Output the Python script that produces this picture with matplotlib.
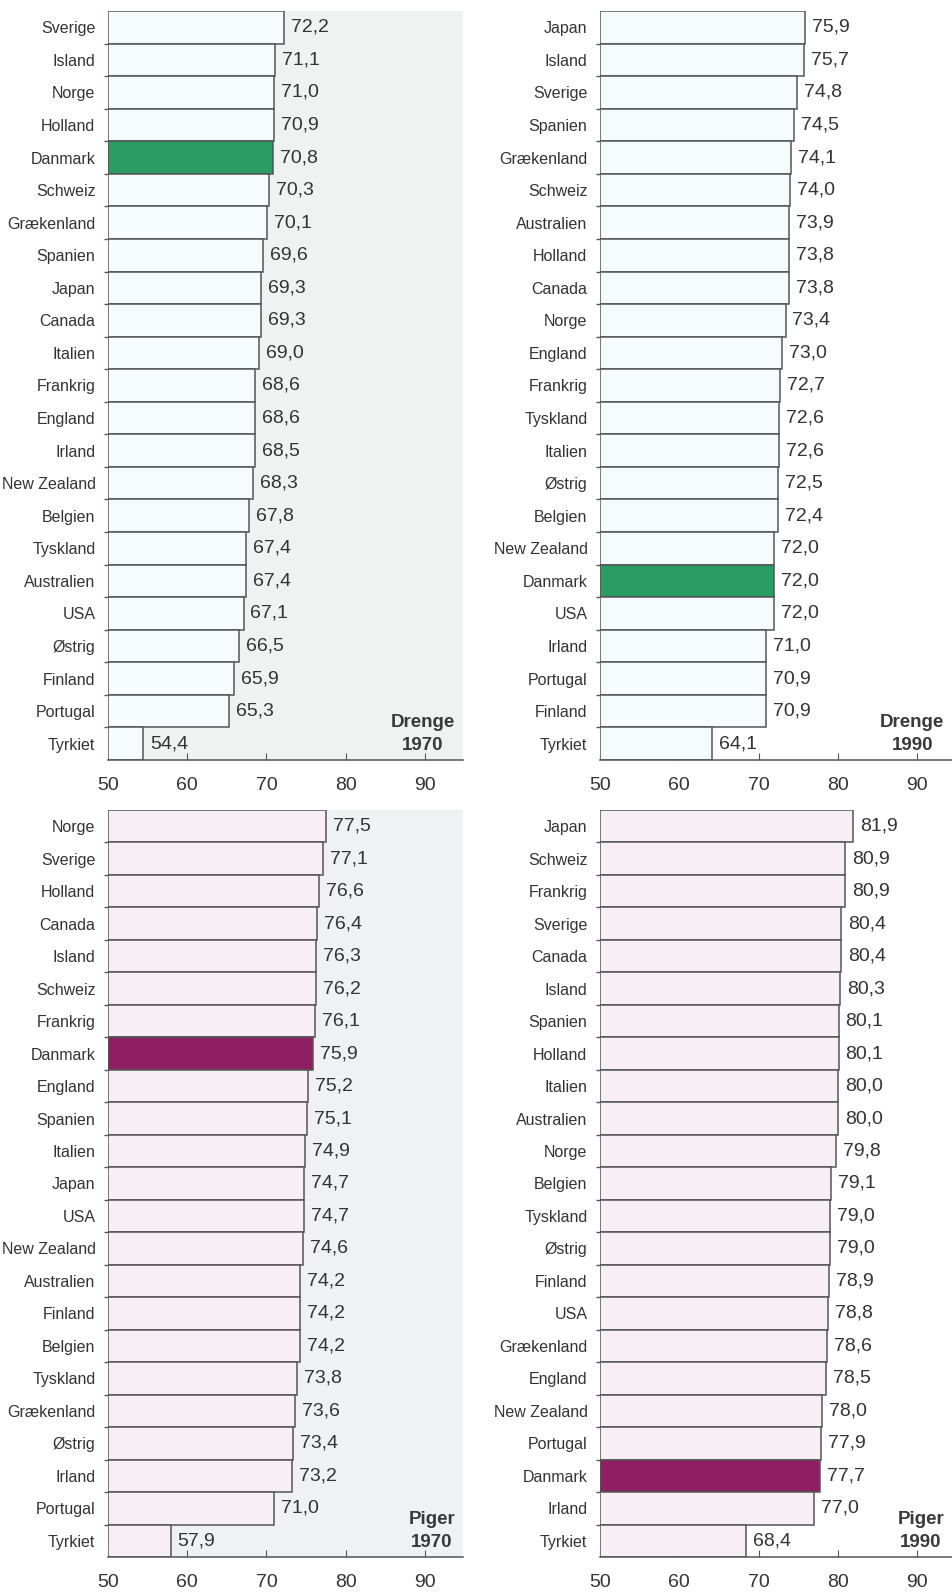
"""
Middellevetid ved fødsel - drenge og piger, 1970 og 1990
"""
import matplotlib.pyplot as plt

# ---- data ----
drenge70_lande = ['Sverige', 'Island', 'Norge', 'Holland', 'Danmark', 'Schweiz', 'Grækenland',
                  'Spanien', 'Japan', 'Canada', 'Italien', 'Frankrig', 'England', 'Irland',
                  'New Zealand', 'Belgien', 'Tyskland', 'Australien', 'USA', 'Østrig',
                  'Finland', 'Portugal', 'Tyrkiet']
drenge70_vaerdi = [72.2, 71.1, 71.0, 70.9, 70.8, 70.3, 70.1, 69.6, 69.3, 69.3, 69.0, 68.6,
                   68.6, 68.5, 68.3, 67.8, 67.4, 67.4, 67.1, 66.5, 65.9, 65.3, 54.4]

drenge90_lande = ['Japan', 'Island', 'Sverige', 'Spanien', 'Grækenland', 'Schweiz', 'Australien',
                  'Holland', 'Canada', 'Norge', 'England', 'Frankrig', 'Tyskland', 'Italien',
                  'Østrig', 'Belgien', 'New Zealand', 'Danmark', 'USA', 'Irland', 'Portugal',
                  'Finland', 'Tyrkiet']
drenge90_vaerdi = [75.9, 75.7, 74.8, 74.5, 74.1, 74.0, 73.9, 73.8, 73.8, 73.4, 73.0, 72.7,
                   72.6, 72.6, 72.5, 72.4, 72.0, 72.0, 72.0, 71.0, 70.9, 70.9, 64.1]

piger70_lande = ['Norge', 'Sverige', 'Holland', 'Canada', 'Island', 'Schweiz', 'Frankrig',
                 'Danmark', 'England', 'Spanien', 'Italien', 'Japan', 'USA', 'New Zealand',
                 'Australien', 'Finland', 'Belgien', 'Tyskland', 'Grækenland', 'Østrig',
                 'Irland', 'Portugal', 'Tyrkiet']
piger70_vaerdi = [77.5, 77.1, 76.6, 76.4, 76.3, 76.2, 76.1, 75.9, 75.2, 75.1, 74.9, 74.7,
                  74.7, 74.6, 74.2, 74.2, 74.2, 73.8, 73.6, 73.4, 73.2, 71.0, 57.9]

piger90_lande = ['Japan', 'Schweiz', 'Frankrig', 'Sverige', 'Canada', 'Island', 'Spanien',
                 'Holland', 'Italien', 'Australien', 'Norge', 'Belgien', 'Tyskland', 'Østrig',
                 'Finland', 'USA', 'Grækenland', 'England', 'New Zealand', 'Portugal',
                 'Danmark', 'Irland', 'Tyrkiet']
piger90_vaerdi = [81.9, 80.9, 80.9, 80.4, 80.4, 80.3, 80.1, 80.1, 80.0, 80.0, 79.8, 79.1,
                  79.0, 79.0, 78.9, 78.8, 78.6, 78.5, 78.0, 77.9, 77.7, 77.0, 68.4]

x_ticks = [50, 60, 70, 80, 90]

# ---- style ----
TXT = '#333333'
EDGE = '#555555'
FONT = ['Liberation Sans', 'DejaVu Sans']

fig = plt.figure(figsize=(9.52, 15.93), dpi=100)
W, H = 952, 1593


def px_axes(left, top, right, bottom):
    return fig.add_axes([left / W, 1 - bottom / H, (right - left) / W, (bottom - top) / H])


def panel(ax, lande, vaerdi, fill, hl, title, bg, xmax):
    ax.set_facecolor(bg)
    colors = [hl if l == 'Danmark' else fill for l in lande]
    y = range(len(lande))
    ax.barh(y, [v - 50 for v in vaerdi], left=50, height=1.0, color=colors,
            edgecolor=EDGE, linewidth=1.1, zorder=2)
    for i, v in enumerate(vaerdi):
        ax.annotate(f'{v:.1f}'.replace('.', ','), xy=(v, i), xytext=(5, 0),
                    textcoords='offset points', ha='left', va='center',
                    fontsize=14, color=TXT, family=FONT)
    ax.set_xlim(50, xmax)
    ax.set_ylim(len(lande) - 0.5, -0.5)
    ax.set_yticks(list(y))
    ax.set_yticklabels(lande, fontsize=11.5, color=TXT, family=FONT)
    ax.set_yticks([i + 0.5 for i in range(len(lande) - 1)], minor=True)
    ax.tick_params(axis='y', which='major', length=0, pad=9)
    ax.tick_params(axis='y', which='minor', length=3, color=EDGE, width=1)
    ax.set_xticks(x_ticks)
    ax.set_xticklabels([str(t) for t in x_ticks], fontsize=14, color=TXT, family=FONT)
    ax.tick_params(axis='x', direction='in', length=5, color=EDGE, pad=12)
    for s in ['top', 'right', 'left']:
        ax.spines[s].set_visible(False)
    ax.spines['bottom'].set_color(EDGE)
    ax.spines['bottom'].set_linewidth(1.1)
    ax.text(0.978, 0.008, title, transform=ax.transAxes, ha='right', va='bottom',
            multialignment='center', fontsize=13.5, fontweight='bold', color='#3a3a3a',
            family=FONT, linespacing=1.5, zorder=3)


ax1 = px_axes(108, 11, 463, 760)
ax2 = px_axes(600, 11, 952, 760)
ax3 = px_axes(108, 810, 463, 1557)
ax4 = px_axes(600, 810, 952, 1557)

panel(ax1, drenge70_lande, drenge70_vaerdi, '#f6fcfc', '#2a9d63', 'Drenge\n1970', '#f0f1f1', 94.8)
panel(ax2, drenge90_lande, drenge90_vaerdi, '#f6fcfc', '#2a9d63', 'Drenge\n1990', 'white', 94.4)
panel(ax3, piger70_lande, piger70_vaerdi, '#f8eef6', '#8e1f62', 'Piger\n1970', '#f0f1f2', 94.8)
panel(ax4, piger90_lande, piger90_vaerdi, '#f8eef6', '#8e1f62', 'Piger\n1990', 'white', 94.4)

plt.savefig('out.png', dpi=100)
